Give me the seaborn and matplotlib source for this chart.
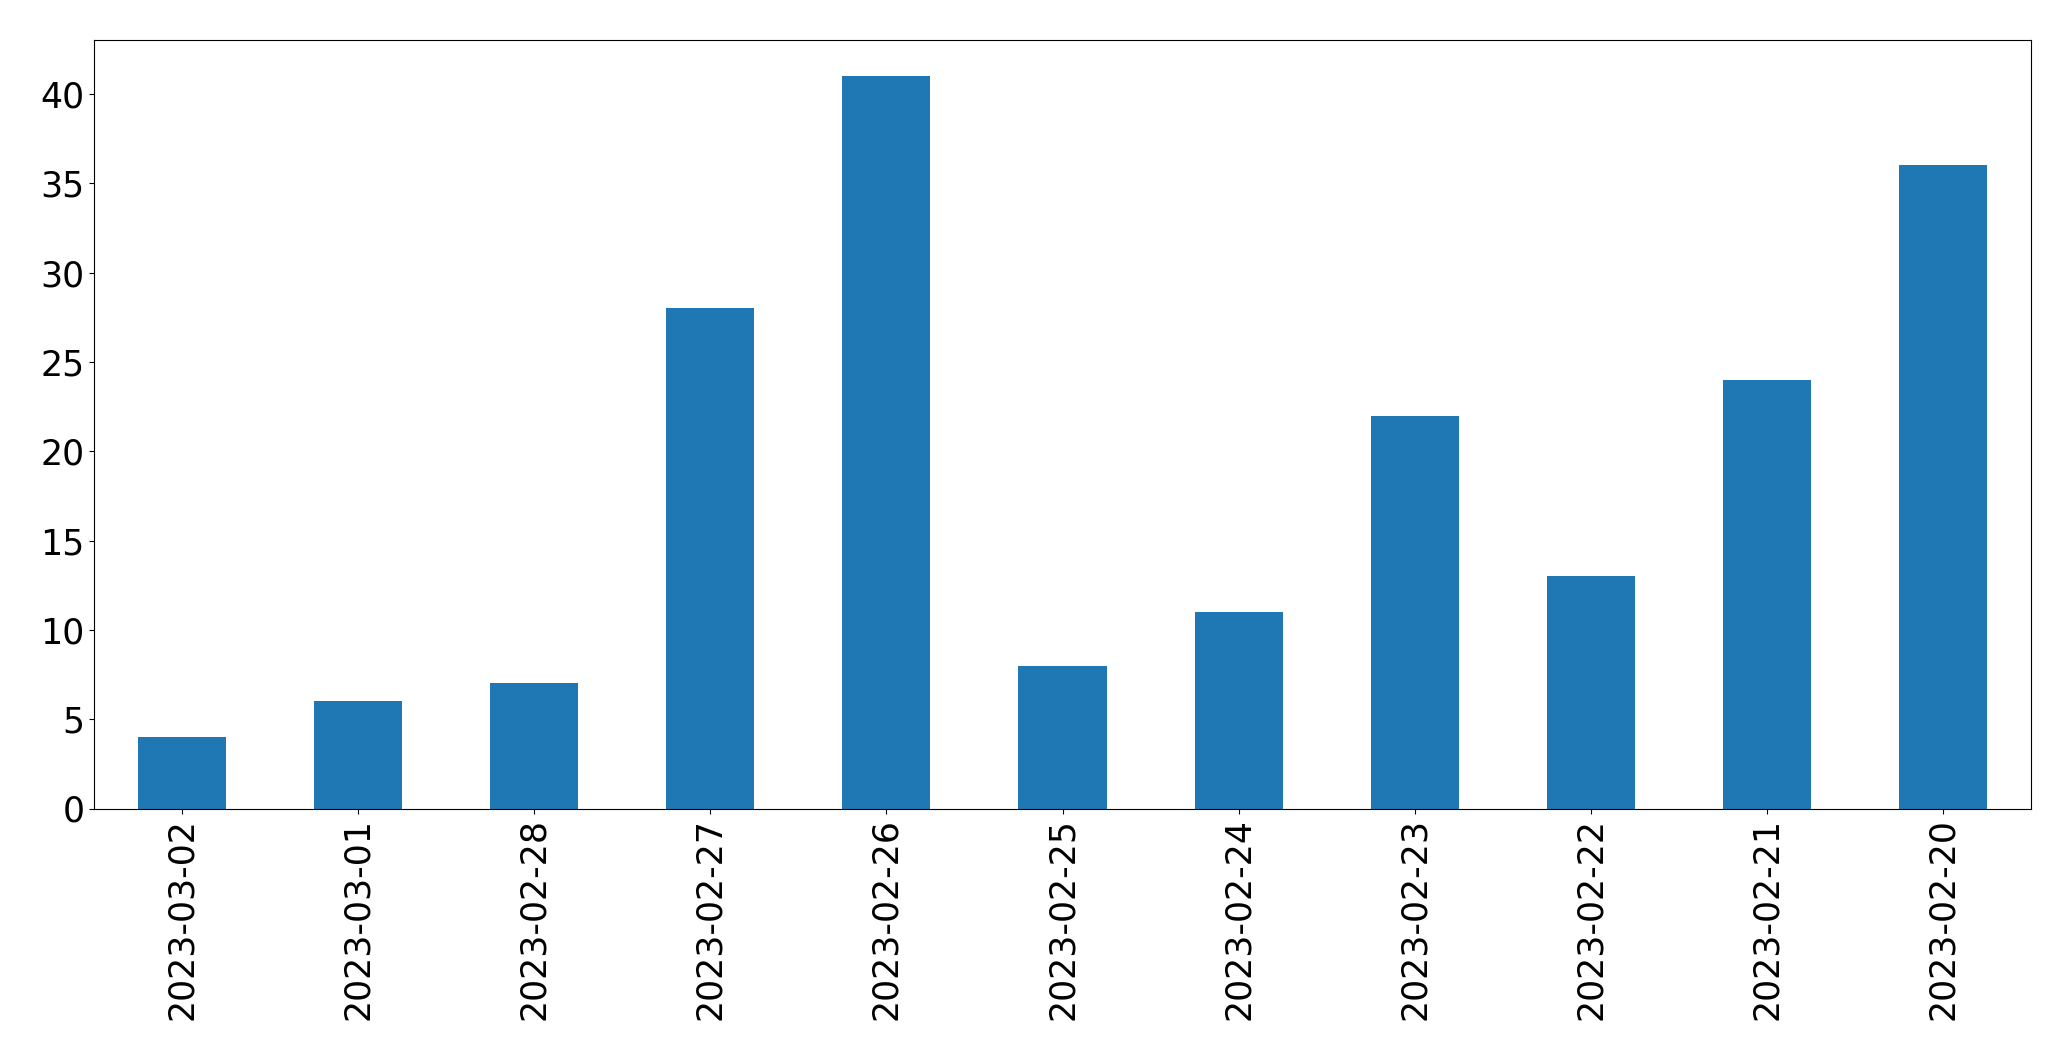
import matplotlib
matplotlib.use('Agg')
import matplotlib.pyplot as plt
import seaborn as sns
import pandas as pd

dates = ['2023-03-02', '2023-03-01', '2023-02-28', '2023-02-27', '2023-02-26',
         '2023-02-25', '2023-02-24', '2023-02-23', '2023-02-22', '2023-02-21',
         '2023-02-20']
counts = [4, 6, 7, 28, 41, 8, 11, 22, 13, 24, 36]

df = pd.DataFrame({'date': dates, 'count': counts})

fig = plt.figure(figsize=(20.71, 10.61), dpi=100)
ax = fig.add_axes([94 / 2071, 1 - 808.5 / 1061, (2031 - 94) / 2071, (808.5 - 39.5) / 1061])
sns.barplot(data=df, x='date', y='count', color='#1f77b4', saturation=1,
            width=0.5, ax=ax, order=dates)
ax.set_xlim(-0.5, len(dates) - 0.5)
ax.set_ylim(0, max(counts) * 1.05)
ax.set_xlabel('')
ax.set_ylabel('')
ax.tick_params(axis='both', labelsize=25)
ax.tick_params(axis='x', rotation=90)
for s in ax.spines.values():
    s.set_visible(True)
    s.set_color('black')

fig.savefig('out.png', dpi=100)
